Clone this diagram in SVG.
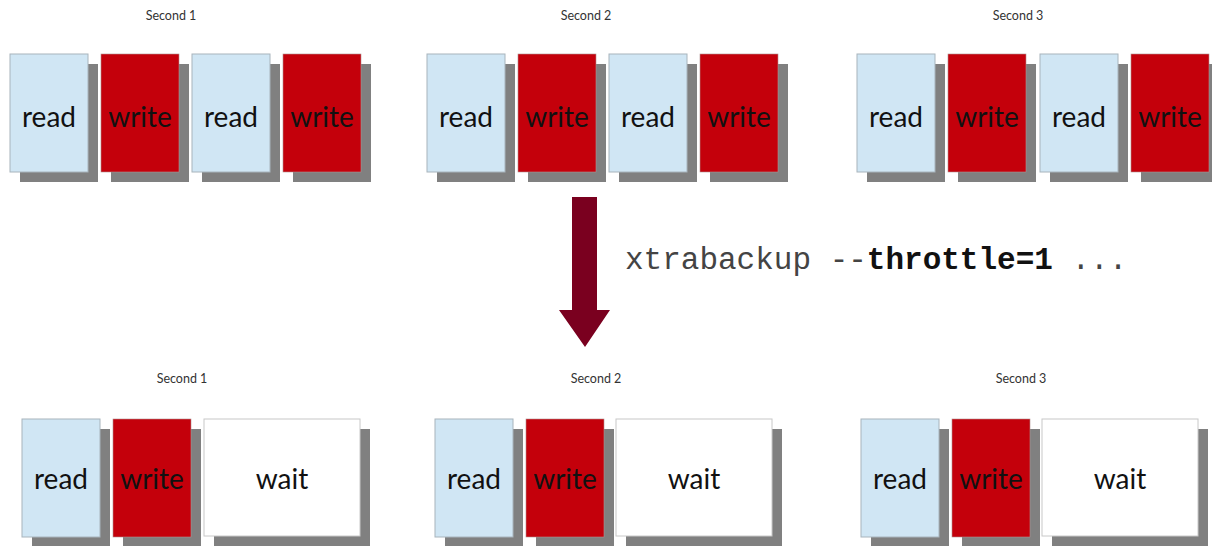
<svg xmlns="http://www.w3.org/2000/svg" width="1212" height="546" viewBox="0 0 1212 546">
<style>
.sh{fill:#808080}
.rd{fill:#d0e6f4;stroke:#a8b4bc;stroke-width:1}
.wr{fill:#c4000b;stroke:#b09090;stroke-width:0.6}
.wt{fill:#ffffff;stroke:#c8c8c8;stroke-width:1}
.t{font-family:Lato,"Open Sans",sans-serif;font-size:28px;fill:#111;text-anchor:middle}
.lb{font-family:Lato,"Open Sans",sans-serif;font-size:12.5px;fill:#333;text-anchor:middle}
.cmd{font-family:"Liberation Mono","DejaVu Sans Mono",monospace;font-size:31px;fill:#444}
</style>
<defs>
<g id="R"><rect class="sh" x="10" y="10" width="78" height="118"/><rect class="rd" x="0" y="0" width="78" height="118"/></g>
<g id="W"><rect class="sh" x="10" y="10" width="78" height="118"/><rect class="wr" x="0" y="0" width="78" height="118"/></g>
<g id="WT"><rect class="sh" x="10" y="10" width="156" height="117"/><rect class="wt" x="0" y="0" width="156" height="117"/></g>
</defs>

<text class="lb" x="171" y="20">Second 1</text>
<text class="lb" x="586" y="20">Second 2</text>
<text class="lb" x="1018" y="20">Second 3</text>

<g id="top1">
<use href="#R" x="10" y="54"/><text class="t" x="49" y="127">read</text>
<use href="#W" x="101" y="54"/><text class="t" x="140" y="127">write</text>
<use href="#R" x="192" y="54"/><text class="t" x="231" y="127">read</text>
<use href="#W" x="283" y="54"/><text class="t" x="322" y="127">write</text>
</g>
<g id="top2">
<use href="#R" x="427" y="54"/><text class="t" x="466" y="127">read</text>
<use href="#W" x="518" y="54"/><text class="t" x="557" y="127">write</text>
<use href="#R" x="609" y="54"/><text class="t" x="648" y="127">read</text>
<use href="#W" x="700" y="54"/><text class="t" x="739" y="127">write</text>
</g>
<g id="top3">
<use href="#R" x="857" y="54"/><text class="t" x="896" y="127">read</text>
<use href="#W" x="948" y="54"/><text class="t" x="987" y="127">write</text>
<use href="#R" x="1040" y="54"/><text class="t" x="1079" y="127">read</text>
<use href="#W" x="1131" y="54"/><text class="t" x="1170" y="127">write</text>
</g>

<g id="connectors">
<path d="M572 197 H597 V310 H610 L585 347 L559 310 H572 Z" fill="#7a001f"/>
</g>
<text class="cmd" x="625" y="269">xtrabackup --<tspan font-weight="bold" fill="#111">throttle=1</tspan> ...</text>

<text class="lb" x="182" y="383">Second 1</text>
<text class="lb" x="596" y="383">Second 2</text>
<text class="lb" x="1021" y="383">Second 3</text>

<g id="bot1">
<use href="#R" x="22" y="419"/><text class="t" x="61" y="489">read</text>
<use href="#W" x="113" y="419"/><text class="t" x="152" y="489">write</text>
<use href="#WT" x="204" y="419"/><text class="t" x="282" y="489">wait</text>
</g>
<g id="bot2">
<use href="#R" x="435" y="419"/><text class="t" x="474" y="489">read</text>
<use href="#W" x="526" y="419"/><text class="t" x="565" y="489">write</text>
<use href="#WT" x="616" y="419"/><text class="t" x="694" y="489">wait</text>
</g>
<g id="bot3">
<use href="#R" x="861" y="419"/><text class="t" x="900" y="489">read</text>
<use href="#W" x="952" y="419"/><text class="t" x="991" y="489">write</text>
<use href="#WT" x="1042" y="419"/><text class="t" x="1120" y="489">wait</text>
</g>
</svg>
